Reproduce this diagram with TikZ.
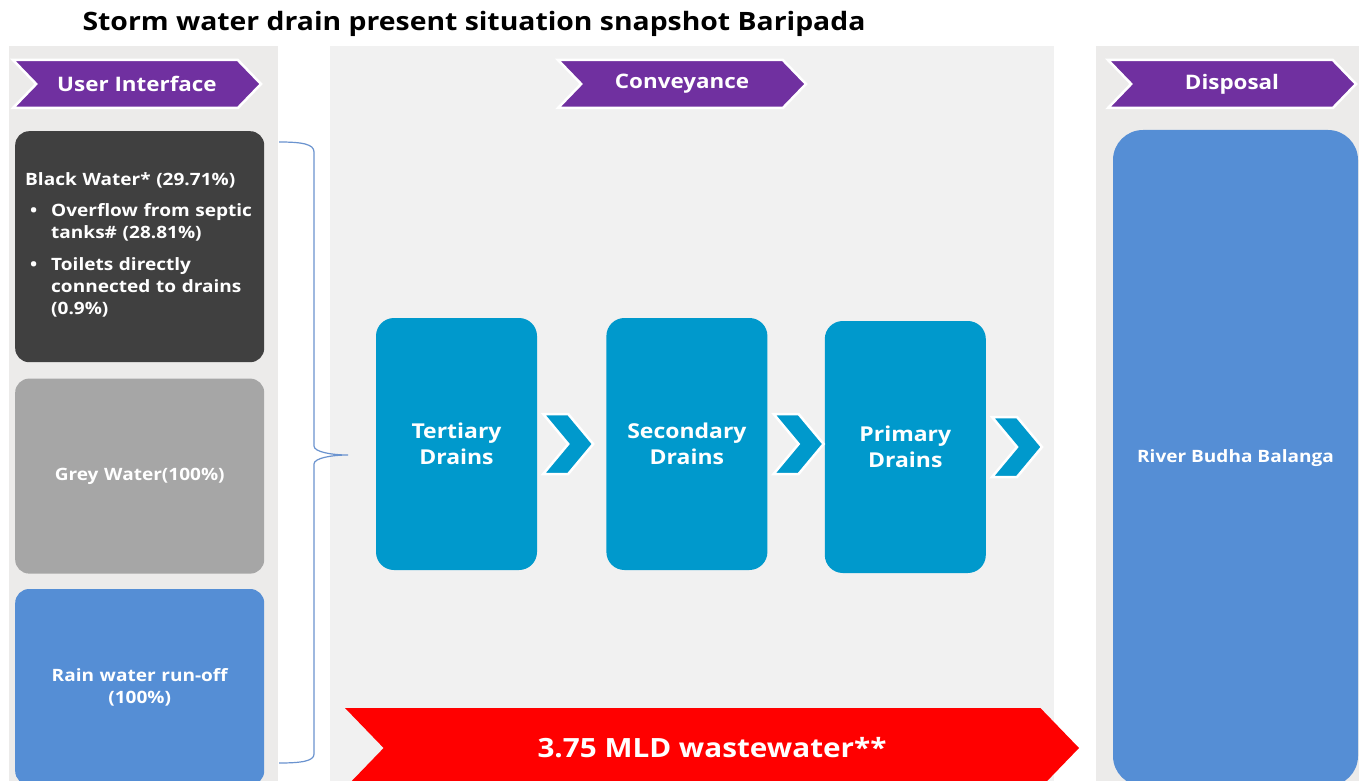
\documentclass[tikz,border=0pt]{standalone}
\usepackage{fontspec}
\setmainfont{Open Sans}[FakeStretch=1.12]
\usetikzlibrary{shapes.symbols,positioning,calc}
\definecolor{hdrpurple}{HTML}{7030A0}
\definecolor{darkbox}{HTML}{404040}
\definecolor{greybox}{HTML}{A6A6A6}
\definecolor{bluebox}{HTML}{558ED5}
\definecolor{draincol}{HTML}{0099CC}
\definecolor{panelA}{HTML}{ECEBEA}
\definecolor{panelB}{HTML}{F1F1F1}
\definecolor{bracecol}{HTML}{6A93CF}
\newcommand{\bitem}[1]{\noindent\makebox[26pt][l]{\hspace{5pt}\textbullet}\begin{tabular}[t]{@{}l@{}}#1\end{tabular}\par}
\begin{document}
\begin{tikzpicture}[x=1pt,y=-1pt,
  hdr/.style={signal, signal from=west, signal to=east, signal pointer angle=92,
    fill=hdrpurple, draw=white, line width=2.5pt, text=white,
    minimum width=248pt, minimum height=48pt, inner sep=0pt,
    font=\bfseries\fontsize{20}{22}\selectfont},
  src/.style={rectangle, rounded corners=14pt, fill=#1, text=white,
    minimum width=249pt, text width=229pt, inner sep=0pt,
    font=\bfseries\fontsize{17}{22}\selectfont},
  drain/.style={rectangle, rounded corners=18pt, fill=draincol, text=white,
    minimum width=161pt, minimum height=252pt, align=center,
    font=\bfseries\fontsize{20.5}{26}\selectfont},
  chev/.style={fill=draincol, draw=white, line width=2.5pt, line join=miter}]
\clip (0,0) rectangle (1359,781);
\useasboundingbox (0,0) rectangle (1359,781);
\fill[white] (0,0) rectangle (1359,781);
\node (title) [anchor=base, font=\bfseries\fontsize{25.3}{28}\selectfont]
  at (474,31) {Storm water drain present situation snapshot Baripada};
\fill[panelA] (9,46) rectangle (278,790);
\fill[panelB] (330,46) rectangle (1054,790);
\fill[panelA] (1096,46) rectangle (1359,790);
\node (h1) [hdr] at (137,84) {User Interface};
\node (h2) [hdr] at (682,84) {Conveyance};
\node (h3) [hdr] at (1232,84) {Disposal};
\node (bw) [src=darkbox, minimum height=231pt, anchor=north west] at (15,131) {%
  Black Water* (29.71\%)\par\vspace{9pt}
  \bitem{Overflow from septic\\tanks\# (28.81\%)}\vspace{9pt}
  \bitem{Toilets directly\\connected to drains\\(0.9\%)}};
\node (gw) [src=greybox, minimum height=195pt, align=center, below=16pt of bw] {Grey Water(100\%)};
\node (rw) [src=bluebox, minimum height=196pt, align=center, below=15pt of gw] {Rain water run-off\\(100\%)};
\draw[bracecol, line width=1.2pt] (279,142) .. controls (302,142) and (314,144) .. (314,152)
  -- (314,446) .. controls (314,452) and (332,455) .. (348,455)
  .. controls (332,455) and (314,458) .. (314,464)
  -- (314,754) .. controls (314,761) and (302,763) .. (279,763);
\node (tert) [drain] at (456.5,444) {Tertiary\\Drains};
\node (sec) [drain, right=69pt of tert] {Secondary\\Drains};
\node (prim) [drain, right=57pt of sec, yshift=-3pt] {Primary\\Drains};
\foreach \d in {tert,sec,prim}
  \draw[chev] ($(\d.east)+(6,-30)$) -- ++(25,0) -- ++(25,30) -- ++(-25,30) -- ++(-25,0) -- ++(25,-30) -- cycle;
\node (river) [rectangle, rounded corners=30pt, fill=bluebox, text=white,
  minimum width=245pt, minimum height=656pt, font=\bfseries\fontsize{17}{20}\selectfont]
  at (1235.5,458) {River Budha Balanga};
\node (flow) [signal, signal from=west, signal to=east, signal pointer angle=92, fill=red,
  text=white, minimum width=734pt, minimum height=80pt, inner sep=0pt,
  font=\bfseries\fontsize{26.5}{30}\selectfont] at (712,748) {3.75 MLD wastewater**};
\end{tikzpicture}
\end{document}
